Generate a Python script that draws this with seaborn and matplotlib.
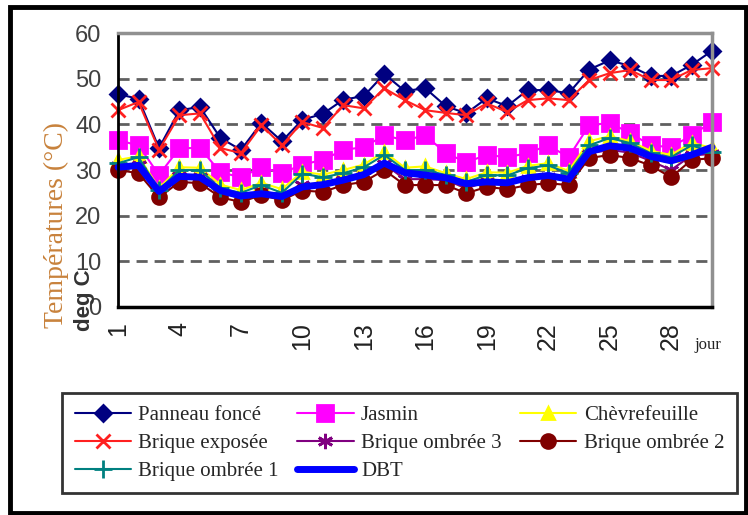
import seaborn as sns
import matplotlib.pyplot as plt
from matplotlib.patches import Rectangle

# données (jours 1..30)
jours = list(range(1, 31))

panneau_fonce = [46.6, 45.6, 34.8, 43.1, 43.8, 37.0, 34.4, 40.3, 36.3, 41.0,
                 42.3, 45.4, 46.2, 51.0, 47.3, 47.9, 44.0, 42.4, 45.7, 44.0,
                 47.5, 47.5, 46.8, 52.0, 54.0, 52.8, 50.6, 50.6, 53.0, 56.1]
brique_exposee = [43.1, 44.9, 34.4, 42.0, 42.4, 34.8, 33.7, 39.8, 35.4, 40.5,
                  39.2, 44.2, 43.5, 47.9, 45.3, 43.1, 42.5, 42.0, 44.6, 42.7,
                  45.3, 45.7, 45.3, 49.7, 51.2, 51.9, 49.7, 49.7, 51.9, 52.3]
jasmin = [36.5, 35.4, 28.9, 34.8, 34.8, 29.5, 28.4, 30.6, 29.3, 31.2,
          32.2, 34.4, 35.0, 37.6, 36.5, 37.6, 33.7, 31.7, 33.3, 32.8,
          33.7, 35.4, 32.8, 39.8, 40.3, 38.1, 35.4, 35.0, 37.6, 40.5]
chevrefeuille = [32.2, 33.0, 26.0, 30.6, 30.5, 26.8, 25.6, 27.2, 25.8, 29.6,
                 29.0, 30.0, 31.2, 34.0, 30.5, 30.8, 29.3, 28.0, 29.5, 29.4,
                 30.9, 31.5, 29.8, 36.3, 37.4, 36.3, 34.2, 33.3, 36.0, 34.8]
brique_ombree3 = [30.8, 31.0, 25.0, 28.6, 28.5, 25.0, 24.0, 25.5, 24.3, 26.8,
                  26.5, 27.8, 28.6, 31.3, 28.0, 28.0, 27.8, 26.0, 27.4, 27.0,
                  28.0, 28.5, 27.8, 33.6, 34.4, 33.8, 32.0, 30.0, 33.2, 33.5]
brique_ombree2 = [30.0, 29.3, 24.0, 27.4, 27.1, 24.0, 23.0, 24.5, 23.4, 25.5,
                  25.2, 26.7, 27.4, 30.0, 26.7, 26.7, 26.7, 24.9, 26.3, 25.8,
                  26.7, 27.1, 26.7, 32.6, 33.3, 32.6, 31.0, 28.4, 32.2, 32.6]
brique_ombree1 = [31.5, 32.8, 25.6, 30.0, 30.0, 26.0, 25.0, 26.7, 25.0, 29.2,
                  28.4, 29.3, 30.6, 33.3, 30.0, 30.0, 28.9, 27.4, 28.9, 28.8,
                  30.4, 31.0, 29.3, 35.4, 37.0, 35.9, 33.7, 32.8, 35.4, 33.9]
dbt = [30.6, 31.0, 25.3, 28.6, 28.4, 25.5, 24.3, 24.8, 24.2, 26.3,
       26.8, 27.8, 29.0, 31.5, 29.4, 28.9, 28.3, 27.0, 27.4, 27.2,
       28.3, 28.8, 28.0, 34.0, 35.3, 34.8, 33.0, 32.0, 33.3, 35.0]

x_labels = ["1", "4", "7", "10", "13", "16", "19", "22", "25", "28"]
y_ticks = [0, 10, 20, 30, 40, 50, 60]

# (nom, valeurs, couleur, marqueur, taille, épaisseur trait)
series = [
    ("Panneau foncé", panneau_fonce, "#000080", "D", 8.5, 1.5),
    ("Jasmin", jasmin, "#FF00FF", "s", 11, 1.5),
    ("Chèvrefeuille", chevrefeuille, "#FFFF00", "^", 9, 1.5),
    ("Brique exposée", brique_exposee, "#FF2020", "x", 10, 1.5),
    ("Brique ombrée 3", brique_ombree3, "#800080", (6, 2, 0), 11, 1.5),
    ("Brique ombrée 2", brique_ombree2, "#800000", "o", 10, 1.5),
    ("Brique ombrée 1", brique_ombree1, "#008080", "+", 13, 1.5),
    ("DBT", dbt, "#0000FF", None, 0, 5),
]

sns.set_style("white")
plt.rcParams["font.family"] = ["Liberation Sans", "DejaVu Sans"]

fig = plt.figure(figsize=(7.48, 5.15), dpi=100)
ax = fig.add_axes([0.1578, 0.4039, 0.7941, 0.5320])

handles = {}
for name, vals, col, mk, ms, lw in series:
    sns.lineplot(x=jours, y=vals, ax=ax, color=col, marker=mk, markersize=ms,
                 markeredgecolor=col, markerfacecolor=col, markeredgewidth=2,
                 linewidth=lw, clip_on=False, label=name)
    handles[name] = ax.lines[-1]
ax.get_legend().remove()

ax.set_xlim(1, 30)
ax.set_ylim(0, 60)
ax.set_xticks(jours)
ax.set_xticklabels([str(d) if str(d) in x_labels else "" for d in jours],
                   rotation=90, fontsize=18, color="#222222")
ax.set_yticks(y_ticks)
ax.set_yticklabels([str(v) for v in y_ticks], fontsize=17, color="#404040")
ax.tick_params(axis="x", direction="inout", length=20, width=1.5, pad=1)
ax.tick_params(axis="y", direction="inout", length=14, width=1.5, pad=5)

for v in y_ticks[1:-1]:
    ax.axhline(v, color="#606060", lw=2, dashes=(4, 2.5), zorder=0)

ax.spines["left"].set_color("black")
ax.spines["bottom"].set_color("black")
ax.spines["left"].set_linewidth(2)
ax.spines["bottom"].set_linewidth(2.5)
ax.spines["top"].set_color("#909090")
ax.spines["right"].set_color("#909090")
ax.spines["top"].set_linewidth(2.5)
ax.spines["right"].set_linewidth(2.5)

fig.text(0.076, 0.563, "Températures (°C)", rotation=90, ha="center", va="center",
         fontsize=20, color="#C8823C", family=["Liberation Serif"])
fig.text(0.113, 0.418, "deg C", rotation=90, ha="center", va="center",
         fontsize=16, fontweight="bold", color="#333333")
fig.text(0.947, 0.33, "jour", ha="center", va="center", fontsize=12,
         color="#222222", family=["Liberation Serif"])

order = ["Panneau foncé", "Brique exposée", "Brique ombrée 1",
         "Jasmin", "Brique ombrée 3", "DBT",
         "Chèvrefeuille", "Brique ombrée 2"]
leg = fig.legend([handles[n] for n in order], order, ncol=3,
                 loc="upper left", bbox_to_anchor=(0.083, 0.237, 0.902, 0.0),
                 mode="expand", frameon=True, fancybox=False,
                 prop={"family": "Liberation Serif", "size": 15},
                 handlelength=2.7, handletextpad=0.35, labelspacing=0.4,
                 borderpad=0.6, borderaxespad=0.0, columnspacing=0.6)
leg.get_frame().set_edgecolor("black")
leg.get_frame().set_linewidth(2)

fig.patches.append(Rectangle((0.0134, 0.0039), 0.984, 0.9825, transform=fig.transFigure,
                             fill=False, edgecolor="black", linewidth=3.5))

plt.savefig("out.png", dpi=100)
